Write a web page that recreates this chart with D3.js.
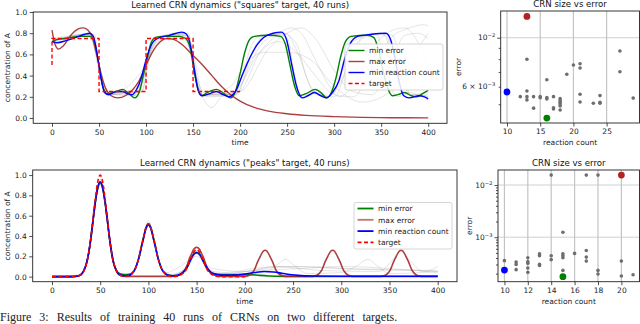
<!DOCTYPE html>
<html>
<head>
<meta charset="utf-8">
<script src="https://cdn.jsdelivr.net/npm/d3@7"></script>
<style>
    body { margin: 0; background: #fff; }
    svg { display: block; font-family: "DejaVu Sans", sans-serif; }
</style>
</head>
<body>
<div id="chart"></div>
<script>
// ---- "squares" target, time series [t, concentration] ----
const sqTarget = [[0,0.5],[0,0.75],[50,0.75],[50,0.25],[100,0.25],[100,0.75],[150,0.75],[150,0.25],[200,0.25]];
const sqMinError = [[0,0.72],[5,0.74],[15,0.75],[30,0.77],[40,0.77],[45,0.72],[50,0.5],[54,0.3],[58,0.23],[65,0.24],[75,0.27],[82,0.23],[88,0.19],[93,0.25],[97,0.4],[101,0.55],[105,0.7],[110,0.76],[120,0.77],[135,0.77],[142,0.75],[147,0.66],[151,0.45],[155,0.27],[159,0.21],[165,0.24],[175,0.27],[183,0.23],[190,0.19],[195,0.25],[200,0.42],[205,0.62],[210,0.74],[215,0.77],[230,0.78],[243,0.77],[248,0.7],[253,0.5],[258,0.3],[263,0.21],[270,0.23],[280,0.27],[287,0.23],[292,0.19],[297,0.24],[302,0.38],[307,0.58],[312,0.72],[318,0.77],[335,0.78],[342,0.76],[347,0.65],[352,0.45],[357,0.28],[362,0.21],[368,0.22],[375,0.24],[382,0.21],[388,0.2],[394,0.23],[400,0.26]];
const sqMaxError = [[0,0.83],[3,0.7],[7,0.65],[12,0.68],[20,0.78],[28,0.84],[33,0.85],[38,0.83],[43,0.76],[48,0.58],[52,0.42],[57,0.28],[63,0.21],[70,0.19],[78,0.21],[85,0.26],[92,0.34],[100,0.5],[108,0.64],[115,0.72],[122,0.75],[130,0.74],[140,0.68],[150,0.59],[160,0.5],[170,0.4],[180,0.3],[190,0.22],[200,0.16],[215,0.1],[230,0.065],[250,0.04],[270,0.025],[300,0.013],[330,0.006],[360,0.003],[400,0.001]];
const sqMinCount = [[0,0.72],[5,0.71],[15,0.73],[25,0.76],[35,0.79],[40,0.8],[44,0.77],[48,0.6],[52,0.38],[56,0.24],[60,0.22],[68,0.25],[75,0.25],[80,0.23],[85,0.22],[90,0.27],[95,0.38],[100,0.55],[105,0.68],[112,0.75],[125,0.78],[138,0.81],[143,0.79],[148,0.65],[152,0.42],[156,0.25],[160,0.21],[168,0.23],[175,0.25],[182,0.22],[188,0.2],[195,0.25],[203,0.42],[211,0.58],[218,0.69],[225,0.76],[235,0.8],[244,0.81],[249,0.75],[255,0.5],[260,0.3],[266,0.19],[272,0.21],[279,0.24],[286,0.21],[292,0.19],[298,0.24],[305,0.35],[311,0.55],[317,0.7],[325,0.77],[340,0.79],[355,0.8],[360,0.74],[365,0.55],[369,0.35],[374,0.21],[380,0.19],[390,0.21],[396,0.2],[400,0.18]];
const sqOtherRuns = [
    [[0,0.73],[10,0.75],[40,0.78],[46,0.7],[52,0.4],[58,0.24],[70,0.25],[90,0.21],[98,0.4],[106,0.68],[115,0.77],[140,0.79],[146,0.7],[153,0.4],[160,0.22],[180,0.25],[193,0.2],[203,0.42],[212,0.68],[220,0.77],[245,0.79],[252,0.65],[258,0.35],[265,0.2],[282,0.26],[295,0.2],[305,0.35],[313,0.65],[322,0.77],[345,0.79],[352,0.6],[360,0.3],[367,0.2],[380,0.24],[392,0.21],[400,0.2]],
    [[0,0.71],[10,0.74],[40,0.79],[47,0.66],[53,0.32],[60,0.23],[85,0.21],[96,0.35],[104,0.62],[114,0.76],[142,0.8],[149,0.6],[155,0.3],[162,0.21],[190,0.21],[205,0.45],[218,0.71],[235,0.79],[250,0.76],[257,0.45],[264,0.22],[280,0.25],[293,0.2],[308,0.42],[320,0.72],[350,0.8],[358,0.7],[366,0.4],[373,0.22],[390,0.22],[400,0.2]],
    [[0,0.74],[40,0.78],[50,0.5],[60,0.23],[90,0.22],[100,0.5],[115,0.77],[145,0.78],[155,0.3],[165,0.2],[190,0.22],[200,0.3],[215,0.55],[235,0.75],[255,0.85],[265,0.8],[280,0.55],[295,0.3],[305,0.2],[320,0.3],[340,0.65],[360,0.82],[375,0.85],[390,0.7],[400,0.5]],
    [[0,0.73],[45,0.79],[52,0.35],[60,0.22],[95,0.3],[105,0.65],[130,0.8],[150,0.6],[160,0.2],[170,0.1],[180,0.2],[200,0.25],[220,0.6],[240,0.72],[260,0.62],[280,0.4],[300,0.22],[320,0.2],[340,0.45],[360,0.75],[380,0.85],[395,0.88],[400,0.87]],
    [[0,0.75],[40,0.79],[50,0.45],[58,0.22],[95,0.25],[105,0.62],[120,0.78],[145,0.8],[152,0.4],[160,0.22],[195,0.22],[210,0.5],[225,0.72],[245,0.8],[260,0.7],[270,0.4],[280,0.22],[300,0.2],[315,0.5],[330,0.75],[350,0.8],[365,0.6],[375,0.3],[385,0.2],[400,0.22]],
    [[0,0.72],[42,0.8],[50,0.5],[58,0.22],[100,0.5],[110,0.76],[140,0.78],[150,0.5],[158,0.22],[200,0.25],[230,0.65],[250,0.8],[265,0.85],[280,0.75],[300,0.45],[320,0.25],[340,0.22],[360,0.5],[375,0.78],[390,0.8],[400,0.75]],
    [[0,0.74],[40,0.77],[50,0.5],[60,0.24],[95,0.24],[105,0.6],[120,0.75],[145,0.76],[155,0.35],[165,0.22],[190,0.3],[205,0.5],[225,0.62],[250,0.62],[275,0.55],[300,0.3],[330,0.15],[360,0.25],[385,0.6],[400,0.8]],
    [[0,0.72],[38,0.79],[48,0.6],[56,0.23],[92,0.26],[102,0.6],[112,0.77],[138,0.79],[150,0.55],[158,0.22],[196,0.22],[212,0.6],[228,0.79],[248,0.8],[262,0.6],[275,0.3],[290,0.2],[305,0.3],[322,0.68],[340,0.8],[362,0.78],[372,0.45],[382,0.22],[400,0.24]]
];

// ---- "peaks" target, time series [t, concentration] ----
const pkTarget = [[0,0],[20,0],[25,0.002],[30,0.017],[33,0.055],[36,0.135],[38,0.23],[40,0.36],[43,0.61],[45,0.77],[47,0.91],[50,1.0],[53,0.91],[55,0.77],[57,0.61],[60,0.36],[62,0.23],[64,0.135],[67,0.055],[70,0.017],[75,0.002],[80,0.01],[83,0.03],[86,0.07],[88,0.12],[90,0.18],[93,0.31],[95,0.39],[97,0.47],[100,0.52],[103,0.47],[105,0.39],[107,0.31],[110,0.18],[112,0.12],[114,0.07],[117,0.03],[120,0.01],[125,0.0],[130,0.005],[133,0.015],[136,0.035],[138,0.05],[140,0.09],[143,0.16],[145,0.2],[147,0.24],[150,0.265],[153,0.24],[155,0.2],[157,0.16],[160,0.09],[162,0.05],[164,0.035],[167,0.015],[170,0.005],[175,0],[200,0]];
const pkMinError = [[0,0],[20,0],[25,0.003],[30,0.02],[33,0.06],[36,0.14],[38,0.23],[40,0.35],[43,0.58],[45,0.73],[47,0.85],[50,0.92],[53,0.85],[55,0.73],[57,0.58],[60,0.35],[62,0.22],[64,0.13],[67,0.06],[70,0.03],[75,0.02],[80,0.022],[83,0.035],[86,0.07],[88,0.12],[90,0.18],[93,0.31],[95,0.39],[97,0.47],[100,0.52],[103,0.47],[105,0.39],[107,0.31],[110,0.18],[112,0.12],[114,0.07],[117,0.035],[120,0.015],[125,0.008],[130,0.01],[133,0.02],[136,0.04],[140,0.09],[143,0.15],[145,0.19],[147,0.22],[150,0.24],[153,0.22],[155,0.19],[157,0.15],[160,0.09],[163,0.05],[167,0.03],[175,0.02],[190,0.02],[205,0.02],[215,0.012],[225,0.006],[240,0.002],[270,0.001],[400,0.001]];
const pkMaxError = [[0,0],[20,0],[25,0.002],[30,0.017],[33,0.055],[36,0.135],[38,0.23],[40,0.35],[43,0.59],[45,0.74],[47,0.86],[50,0.93],[53,0.86],[55,0.74],[57,0.59],[60,0.35],[62,0.22],[64,0.13],[67,0.05],[70,0.015],[75,0.002],[125,0.002],[130,0.008],[133,0.02],[136,0.045],[138,0.07],[140,0.11],[143,0.19],[145,0.23],[147,0.27],[150,0.29],[153,0.27],[155,0.23],[157,0.19],[160,0.11],[162,0.07],[164,0.045],[167,0.02],[170,0.008],[175,0.002],[200,0.002],[204,0.01],[207,0.03],[210,0.07],[213,0.14],[216,0.2],[219,0.25],[221,0.26],[223,0.25],[226,0.2],[229,0.14],[232,0.07],[235,0.03],[238,0.01],[242,0.002],[270,0.002],[274,0.01],[277,0.03],[280,0.07],[283,0.14],[286,0.2],[289,0.25],[291,0.26],[293,0.25],[296,0.2],[299,0.14],[302,0.07],[305,0.03],[308,0.01],[312,0.002],[341,0.002],[345,0.01],[348,0.03],[351,0.07],[354,0.14],[357,0.2],[360,0.25],[362,0.26],[364,0.25],[367,0.2],[370,0.14],[373,0.07],[376,0.03],[379,0.01],[383,0.002],[400,0.002]];
const pkMinCount = [[0,0],[20,0],[25,0.003],[30,0.02],[33,0.06],[36,0.14],[38,0.23],[40,0.36],[43,0.59],[45,0.74],[47,0.86],[50,0.935],[53,0.86],[55,0.74],[57,0.59],[60,0.36],[62,0.23],[64,0.13],[67,0.055],[70,0.02],[75,0.008],[80,0.012],[83,0.03],[86,0.07],[88,0.12],[90,0.18],[93,0.3],[95,0.38],[97,0.46],[100,0.51],[103,0.46],[105,0.38],[107,0.3],[110,0.18],[112,0.12],[114,0.07],[117,0.035],[120,0.015],[125,0.008],[130,0.012],[133,0.025],[136,0.045],[140,0.09],[143,0.15],[145,0.19],[147,0.22],[150,0.235],[153,0.22],[155,0.19],[157,0.15],[160,0.1],[163,0.06],[167,0.03],[175,0.015],[190,0.015],[200,0.025],[210,0.04],[220,0.05],[230,0.046],[240,0.03],[255,0.012],[270,0.006],[300,0.004],[400,0.003]];
const pkOtherRuns = [
    [[0,0],[25,0.005],[33,0.07],[40,0.37],[45,0.78],[50,0.96],[55,0.78],[60,0.37],[67,0.07],[75,0.01],[86,0.08],[93,0.33],[100,0.55],[107,0.33],[114,0.08],[125,0.02],[136,0.05],[143,0.17],[150,0.26],[157,0.17],[164,0.06],[180,0.04],[210,0.08],[240,0.1],[300,0.08],[400,0.06]],
    [[0,0],[25,0.004],[33,0.06],[40,0.34],[45,0.73],[50,0.9],[55,0.73],[60,0.34],[67,0.06],[75,0.01],[86,0.07],[93,0.3],[100,0.5],[107,0.3],[114,0.07],[125,0.01],[143,0.14],[150,0.22],[157,0.14],[168,0.03],[200,0.02],[225,0.06],[235,0.13],[242,0.17],[250,0.12],[265,0.03],[300,0.04],[315,0.1],[328,0.17],[338,0.1],[350,0.03],[400,0.05]],
    [[0,0],[25,0.004],[33,0.06],[40,0.35],[45,0.75],[50,0.93],[55,0.75],[60,0.35],[67,0.06],[75,0.01],[86,0.07],[93,0.31],[100,0.52],[107,0.31],[114,0.07],[120,0.04],[125,0.06],[133,0.1],[140,0.15],[150,0.2],[158,0.14],[166,0.08],[200,0.05],[230,0.1],[280,0.06],[340,0.05],[352,0.15],[362,0.25],[372,0.15],[385,0.05],[400,0.1]],
    [[0,0],[25,0.003],[33,0.06],[40,0.36],[45,0.76],[50,0.94],[55,0.76],[60,0.36],[67,0.06],[75,0.01],[86,0.07],[93,0.32],[100,0.53],[107,0.32],[114,0.07],[125,0.01],[136,0.05],[143,0.18],[150,0.28],[157,0.18],[164,0.05],[180,0.02],[200,0.05],[260,0.08],[300,0.1],[350,0.08],[400,0.04]],
    [[0,0],[30,0.02],[38,0.22],[45,0.74],[50,0.92],[55,0.74],[62,0.22],[70,0.03],[80,0.02],[90,0.17],[100,0.5],[110,0.17],[120,0.02],[140,0.08],[150,0.23],[160,0.09],[175,0.03],[210,0.06],[230,0.09],[260,0.1],[320,0.07],[380,0.06],[400,0.05]]
];

// ---- scatter: reaction count vs error ----
const sqCount = [13,16,19,20,21,21,27,27,13,13,13,12,14,14,15,15,16,16,17,17,17,18,18,18,18,18,18,21,21,23,24,24,24,29];
const sqError = [0.00799,0.00645,0.00683,0.00752,0.00763,0.00729,0.00871,0.00702,0.00574,0.00541,0.00523,0.00541,0.00541,0.0048,0.00541,0.00535,0.00536,0.00528,0.00541,0.00482,0.00476,0.0053,0.00519,0.0051,0.00501,0.00491,0.00471,0.00555,0.00512,0.00505,0.00547,0.0051,0.00505,0.00533];
const sqHighCount = [16, 13, 10];          // min error, max error, min reaction count
const sqHighError = [0.00433, 0.01249, 0.00568];

const pkCount = [14,17,18,15,10,11,11,11,12,12,12,12,12,13,13,13,13,14,14,15,15,15,15,16,17,17,17,18,18,20,20,21];
const pkError = [0.0155,0.0155,0.0155,0.001245,0.000355,0.000333,0.000301,0.000239,0.000404,0.00034,0.000315,0.000256,0.000212,0.000482,0.000441,0.000301,0.000288,0.000441,0.000371,0.000482,0.000441,0.000404,0.000231,0.000489,0.000557,0.000415,0.000348,0.000231,0.000197,0.000348,0.00018,0.000191];
const pkHighCount = [15, 20, 10];
const pkHighError = [0.000175, 0.0155, 0.000234];

// ---- tick labels ----
const timeTicks = [0, 50, 100, 150, 200, 250, 300, 350, 400];
const sqConcTicks = [0, 0.2, 0.4, 0.6, 0.8, 1.0];
const pkConcTicks = [0, 0.2, 0.4, 0.6, 0.8, 1.0];
const sqCountTicks = [10, 15, 20, 25];
const pkCountTicks = [10, 12, 14, 16, 18, 20];
const legendLabels = ["min error", "max error", "min reaction count", "target"];

const colors = { min: "#008000", max: "#a52a2a", count: "#0000ff", target: "#ff0000" };

const svg = d3.select('#chart')
    .append('svg')
    .attr('width', 640)
    .attr('height', 324);

function frame(g, b) {
    g.append('rect')
        .attr('x', b.left).attr('y', b.top)
        .attr('width', b.right - b.left).attr('height', b.bottom - b.top)
        .attr('fill', 'none').attr('stroke', '#222').attr('stroke-width', 0.9);
}

function styleAxis(ax) {
    ax.select('.domain').remove();
    ax.selectAll('.tick line').attr('stroke', '#222').attr('stroke-width', 0.8);
    ax.selectAll('.tick text').attr('font-size', 7.5).attr('fill', '#222')
        .attr('font-family', '"DejaVu Sans", sans-serif');
}

function title(g, text, x, y) {
    g.append('text').attr('x', x).attr('y', y).attr('text-anchor', 'middle')
        .attr('font-size', 8.6).attr('fill', '#111').text(text);
}

function ylabel(g, text, x, y) {
    g.append('text').attr('transform', `translate(${x},${y}) rotate(-90)`)
        .attr('text-anchor', 'middle').attr('font-size', 7.5).attr('fill', '#222').text(text);
}

function linePanel(b, d, legendBox, lw) {
    const g = svg.append('g');
    const x = d3.scaleLinear().domain([-20, 420]).range([b.left, b.right]);
    const y = d3.scaleLinear().domain(d.ydom).range([b.bottom, b.top]);

    const line = d3.line().x(p => x(p[0])).y(p => y(p[1])).curve(d3.curveMonotoneX);
    const straight = d3.line().x(p => x(p[0])).y(p => y(p[1]));

    g.append('clipPath').attr('id', d.id)
        .append('rect').attr('x', b.left).attr('y', b.top)
        .attr('width', b.right - b.left).attr('height', b.bottom - b.top);
    const plot = g.append('g').attr('clip-path', `url(#${d.id})`);

    plot.selectAll('.run')
        .data(d.others)
        .join('path')
        .attr('class', 'run')
        .attr('d', line)
        .attr('fill', 'none')
        .attr('stroke', '#888')
        .attr('stroke-opacity', 0.22)
        .attr('stroke-width', 1);

    plot.append('path').attr('d', line(d.min)).attr('fill', 'none')
        .attr('stroke', colors.min).attr('stroke-width', lw);
    plot.append('path').attr('d', line(d.max)).attr('fill', 'none')
        .attr('stroke', colors.max).attr('stroke-opacity', 0.9).attr('stroke-width', lw);
    plot.append('path').attr('d', line(d.count)).attr('fill', 'none')
        .attr('stroke', colors.count).attr('stroke-width', lw);
    plot.append('path').attr('d', (d.squares ? straight : line)(d.target)).attr('fill', 'none')
        .attr('stroke', colors.target).attr('stroke-width', lw)
        .attr('stroke-dasharray', '4,2.5');

    frame(g, b);

    const xa = g.append('g').attr('transform', `translate(0,${b.bottom})`)
        .call(d3.axisBottom(x).tickValues(timeTicks).tickSize(3.5).tickPadding(2.5));
    styleAxis(xa);
    const ya = g.append('g').attr('transform', `translate(${b.left},0)`)
        .call(d3.axisLeft(y).tickValues(d.yticks).tickFormat(d3.format('.1f')).tickSize(3.5).tickPadding(2.5));
    styleAxis(ya);

    title(g, d.title, (b.left + b.right) / 2, b.top - 4.5);
    g.append('text').attr('x', (b.left + b.right) / 2).attr('y', b.bottom + 22)
        .attr('text-anchor', 'middle').attr('font-size', 7.5).attr('fill', '#222').text('time');
    ylabel(g, 'concentration of A', 9.5, (b.top + b.bottom) / 2);

    // legend
    const lg = g.append('g').attr('transform', `translate(${legendBox.x},${legendBox.y})`);
    lg.append('rect').attr('width', legendBox.w).attr('height', legendBox.h)
        .attr('rx', 2).attr('fill', '#fff').attr('fill-opacity', 0.85)
        .attr('stroke', '#ccc').attr('stroke-width', 0.8);
    const styles = [
        { c: colors.min, o: 1, dash: null },
        { c: colors.max, o: legendBox.maxOpacity, dash: null },
        { c: colors.count, o: 1, dash: null },
        { c: colors.target, o: 1, dash: '4,2.5' }
    ];
    legendLabels.forEach((lab, i) => {
        const yy = legendBox.pad + i * legendBox.step;
        lg.append('line').attr('x1', 3.5).attr('x2', 3.5 + legendBox.sw).attr('y1', yy).attr('y2', yy)
            .attr('stroke', styles[i].c).attr('stroke-opacity', styles[i].o)
            .attr('stroke-width', legendBox.lw).attr('stroke-dasharray', styles[i].dash);
        lg.append('text').attr('x', 3.5 + legendBox.sw + 4.5).attr('y', yy + 2.7)
            .attr('font-size', 7.5).attr('fill', '#222').text(lab);
    });
}

function supLabel(sel, base, exp) {
    sel.append('tspan').text(base);
    sel.append('tspan').attr('font-size', 5.2).attr('dy', -3.2).text(exp);
}

function scatterPanel(b, d) {
    const g = svg.append('g');
    const x = d3.scaleLinear().domain(d.xdom).range([b.left, b.right]);
    const y = d3.scaleLog().domain(d.ydom).range([b.bottom, b.top]);

    // grid
    g.selectAll('.vgrid').data(d.xticks).join('line')
        .attr('x1', v => x(v)).attr('x2', v => x(v)).attr('y1', b.top).attr('y2', b.bottom)
        .attr('stroke', '#c4c4c4').attr('stroke-width', 1.2);
    g.selectAll('.hgrid').data(d.majors).join('line')
        .attr('x1', b.left).attr('x2', b.right).attr('y1', v => y(v)).attr('y2', v => y(v))
        .attr('stroke', '#c4c4c4').attr('stroke-width', 0.8);

    g.selectAll('.dot').data(d.count).join('circle')
        .attr('cx', v => x(v)).attr('cy', (v, i) => y(d.error[i])).attr('r', 1.8)
        .attr('fill', '#6e6e6e');

    const hc = [colors.min, '#b22222', colors.count];
    g.selectAll('.hi').data(d.hcount).join('circle')
        .attr('cx', v => x(v)).attr('cy', (v, i) => y(d.herror[i])).attr('r', 3.4)
        .attr('fill', (v, i) => hc[i]);

    frame(g, b);

    const xa = g.append('g').attr('transform', `translate(0,${b.bottom})`)
        .call(d3.axisBottom(x).tickValues(d.xticks).tickSize(3.5).tickPadding(2.5));
    styleAxis(xa);

    const ya = g.append('g').attr('transform', `translate(${b.left},0)`)
        .call(d3.axisLeft(y).tickValues(d.majors.concat(d.minors)).tickFormat('').tickSize(3.5));
    styleAxis(ya);
    ya.selectAll('.tick line').attr('x2', v => d.majors.includes(v) ? -3.5 : -2);

    d.labels.forEach(l => {
        const t = g.append('text').attr('x', b.left - 5.5).attr('y', y(l.v) + 2.7)
            .attr('text-anchor', 'end').attr('font-size', 7.5).attr('fill', '#222');
        supLabel(t, l.base, l.exp);
    });

    title(g, 'CRN size vs error', (b.left + b.right) / 2, b.top - 4.5);
    g.append('text').attr('x', (b.left + b.right) / 2).attr('y', b.bottom + 22)
        .attr('text-anchor', 'middle').attr('font-size', 7.5).attr('fill', '#222').text('reaction count');
    ylabel(g, 'error', d.ylabelX, (b.top + b.bottom) / 2);
}

function draw() {
    linePanel({ left: 33.2, right: 447, top: 12, bottom: 123.3 }, {
        id: 'c1', ydom: [-0.05, 1.0], yticks: sqConcTicks, squares: true,
        title: 'Learned CRN dynamics ("squares" target, 40 runs)',
        others: sqOtherRuns, min: sqMinError, max: sqMaxError, count: sqMinCount, target: sqTarget
    }, { x: 345, y: 44, w: 98, h: 46, pad: 6.5, step: 11, sw: 16, lw: 1.4, maxOpacity: 0.9 }, 1.4);

    linePanel({ left: 32.7, right: 457, top: 170, bottom: 281.7 }, {
        id: 'c2', ydom: [-0.05, 1.05], yticks: pkConcTicks, squares: false,
        title: 'Learned CRN dynamics ("peaks" target, 40 runs)',
        others: pkOtherRuns, min: pkMinError, max: pkMaxError, count: pkMinCount, target: pkTarget
    }, { x: 354, y: 202.5, w: 98, h: 46.5, pad: 6, step: 11.3, sw: 16, lw: 1.8, maxOpacity: 0.65 }, 1.6);

    scatterPanel({ left: 500.7, right: 639.5, top: 11, bottom: 123 }, {
        xdom: [9.05, 29.95], ydom: [Math.pow(10, -2.386), Math.pow(10, -1.879)],
        xticks: sqCountTicks, count: sqCount, error: sqError, hcount: sqHighCount, herror: sqHighError,
        majors: [0.01], minors: [0.005, 0.006, 0.007, 0.008, 0.009],
        labels: [{ v: 0.01, base: '10', exp: '\u22122' }, { v: 0.006, base: '6 \u00d7 10', exp: '\u22123' }],
        ylabelX: 460.5
    });

    const pkMinors = [];
    [0.0001, 0.001].forEach(dec => { for (let k = 2; k <= 9; k++) pkMinors.push(dec * k); });
    scatterPanel({ left: 498, right: 639.5, top: 170, bottom: 281.7 }, {
        xdom: [9.45, 21.55], ydom: [Math.pow(10, -3.853), Math.pow(10, -1.712)],
        xticks: pkCountTicks, count: pkCount, error: pkError, hcount: pkHighCount, herror: pkHighError,
        majors: [0.001, 0.01], minors: pkMinors,
        labels: [{ v: 0.01, base: '10', exp: '\u22122' }, { v: 0.001, base: '10', exp: '\u22123' }],
        ylabelX: 471.5
    });

    // figure caption along the bottom edge
    svg.append('text').attr('x', 0).attr('y', 320.5)
        .attr('font-family', '"Liberation Serif", serif').attr('font-size', 12).attr('fill', '#222')
        .attr('word-spacing', 5)
        .text('Figure 3: Results of training 40 runs of CRNs on two different targets.');
}

draw();
</script>
</body>
</html>
